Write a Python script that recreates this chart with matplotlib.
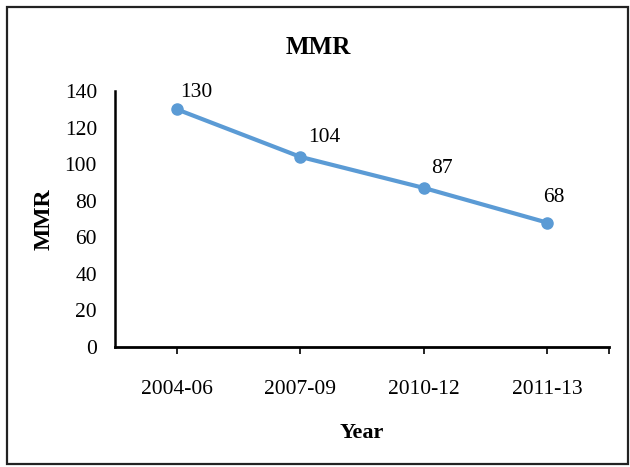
import matplotlib
matplotlib.use("Agg")
import matplotlib.pyplot as plt
from matplotlib.patches import Rectangle

years = ["2004-06", "2007-09", "2010-12", "2011-13"]
mmr = [130, 104, 87, 68]
yticks = [0, 20, 40, 60, 80, 100, 120, 140]

# label offsets (points) relative to each marker
label_offsets = [(14, 12), (17, 14), (13, 14), (5, 18)]

plt.rcParams['font.family'] = ['Liberation Serif', 'DejaVu Serif']

fig = plt.figure(figsize=(6.3, 4.67), dpi=100)
ax = fig.add_axes([115 / 630, 1 - 347 / 467, (609 - 115) / 630, (347 - 91) / 467])

x = list(range(len(years)))
ax.plot(x, mmr, color='#5B9BD5', lw=3.0, marker='o', ms=8, zorder=3, clip_on=False)

for xi, v, (dx, dy) in zip(x, mmr, label_offsets):
    ax.annotate(str(v), (xi, v), xytext=(dx, dy), textcoords='offset points',
                ha='center', va='center', fontsize=15.5)

ax.set_xlim(-0.5, 3.5)
ax.set_ylim(0, 140)
ax.set_yticks(yticks)
ax.set_xticks(x + [3.5])
ax.set_xticklabels(years + [""], fontsize=15.5)
ax.tick_params(axis='y', length=0, pad=13, labelsize=15.5)
ax.tick_params(axis='x', length=5, width=1.2, pad=19, direction='out')

for s in ['top', 'right']:
    ax.spines[s].set_visible(False)
ax.spines['left'].set_linewidth(1.8)
ax.spines['bottom'].set_linewidth(2.0)

ax.set_ylabel("MMR", fontsize=17, fontweight='bold', labelpad=7)
ax.set_xlabel("Year", fontsize=16, fontweight='bold', labelpad=17)
fig.text(318 / 630, 1 - 47 / 467, "MMR", ha='center', va='center',
         fontsize=18, fontweight='bold')

fig.patches.append(Rectangle((7 / 630, 3 / 467), 621 / 630, 457 / 467,
                             transform=fig.transFigure, fill=False,
                             edgecolor='#222222', lw=1.6))

fig.savefig("out.png", dpi=100)
